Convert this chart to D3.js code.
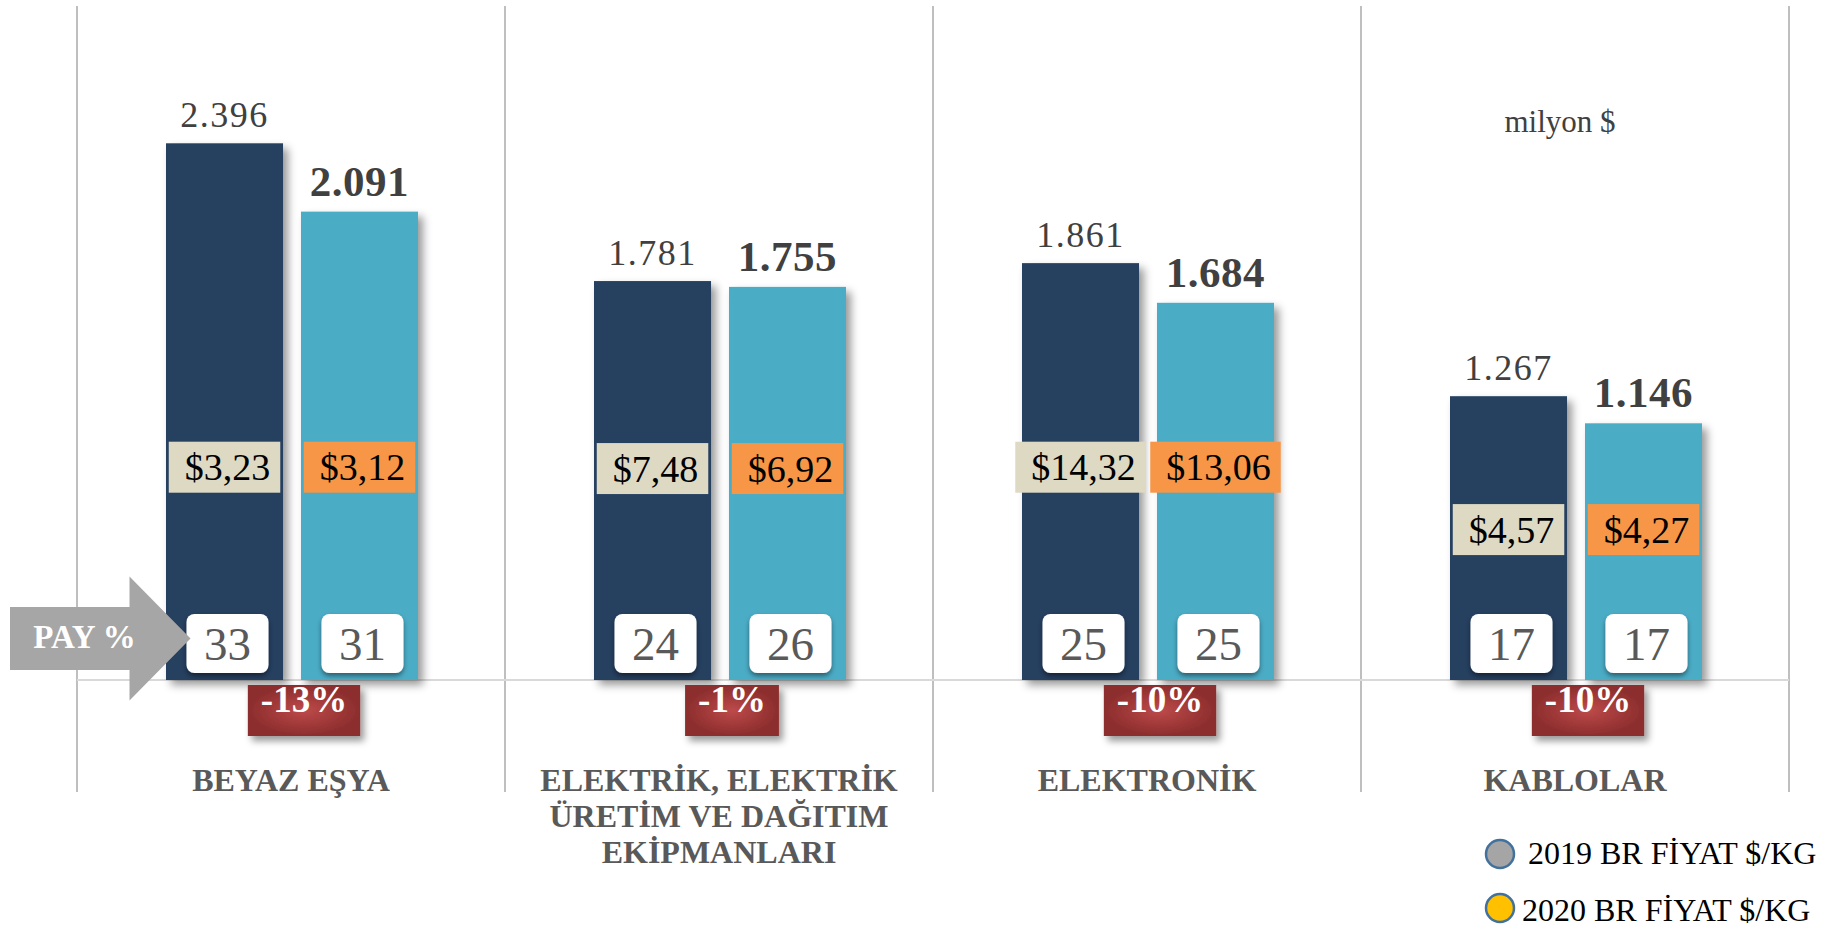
<!DOCTYPE html>
<html>
<head>
<meta charset="utf-8">
<script src="https://cdn.jsdelivr.net/npm/d3@7/dist/d3.min.js"></script>
<style>
  body { margin: 0; background: #fff; overflow: hidden; }
  svg text { font-family: "Liberation Serif", "Times New Roman", serif; }
</style>
</head>
<body>
<div id="chart"></div>
<script>
// data
let categoryLines = [
  ['BEYAZ EŞYA'],
  ['ELEKTRİK, ELEKTRİK', 'ÜRETİM VE DAĞITIM', 'EKİPMANLARI'],
  ['ELEKTRONİK'],
  ['KABLOLAR']
]
let years = ['2019', '2020']
let exports2019 = [2396, 1781, 1861, 1267]
let exports2020 = [2091, 1755, 1684, 1146]
let price2019 = ['$3,23', '$7,48', '$14,32', '$4,57']
let price2020 = ['$3,12', '$6,92', '$13,06', '$4,27']
let share2019 = [33, 24, 25, 17]
let share2020 = [31, 26, 25, 17]
let changeLabels = ['-13%', '-1%', '-10%', '-10%']
let legendLabels = ['2019 BR FİYAT $/KG', '2020 BR FİYAT $/KG']
let unitLabel = 'milyon $'

let width = 1836
let height = 929

let barColor = { '2019': '#264061', '2020': '#4bacc6' }
let priceColor = { '2019': '#ddd9c3', '2020': '#f79646' }
let legendFill = ['#a5a5a5', '#ffc000']

let svg = d3.select('#chart')
  .append('svg')
    .attr('width', width)
    .attr('height', height)

// filters and gradient
let defs = svg.append('defs')
defs.append('filter')
    .attr('id', 'barShadow')
    .attr('x', '-20%').attr('y', '-10%').attr('width', '140%').attr('height', '130%')
  .append('feDropShadow')
    .attr('dx', 5).attr('dy', 5).attr('stdDeviation', 4)
    .attr('flood-color', '#000').attr('flood-opacity', 0.4)
defs.append('filter')
    .attr('id', 'boxShadow')
    .attr('x', '-20%').attr('y', '-20%').attr('width', '140%').attr('height', '160%')
  .append('feDropShadow')
    .attr('dx', 0).attr('dy', 3).attr('stdDeviation', 2.5)
    .attr('flood-color', '#000').attr('flood-opacity', 0.45)
defs.append('filter')
    .attr('id', 'redShadow')
    .attr('x', '-20%').attr('y', '-20%').attr('width', '150%').attr('height', '170%')
  .append('feDropShadow')
    .attr('dx', 4).attr('dy', 5).attr('stdDeviation', 3.5)
    .attr('flood-color', '#000').attr('flood-opacity', 0.4)
let grad = defs.append('radialGradient').attr('id', 'redGrad')
grad.append('stop').attr('offset', '0%').attr('stop-color', '#bd4a4a')
grad.append('stop').attr('offset', '100%').attr('stop-color', '#8c2d2d')

// scales
let x0 = d3.scaleBand().domain(d3.range(categoryLines.length)).range([77, 1789])
let x1 = d3.scaleBand().domain(years).range([89, 341]).paddingInner(0.133)
let y = d3.scaleLinear().domain([0, 3000]).range([680, 8])

let rows = categoryLines.map((lines, i) => ({
  i: i,
  lines: lines,
  bars: [
    { year: '2019', value: exports2019[i], price: price2019[i], share: share2019[i] },
    { year: '2020', value: exports2020[i], price: price2020[i], share: share2020[i] }
  ],
  change: changeLabels[i]
}))

// vertical separators
let edges = x0.domain().map(d => x0(d)).concat([x0(x0.domain().length - 1) + x0.bandwidth()])
svg.append('g').selectAll('line')
  .data(edges)
  .enter().append('line')
    .attr('x1', d => d).attr('x2', d => d)
    .attr('y1', 6).attr('y2', 792)
    .attr('stroke', '#bfbfbf')
    .attr('stroke-width', 2)

// baseline
svg.append('line')
  .attr('x1', x0.range()[0]).attr('x2', x0.range()[1])
  .attr('y1', y(0)).attr('y2', y(0))
  .attr('stroke', '#d9d9d9')
  .attr('stroke-width', 2)

let groups = svg.append('g').selectAll('g')
  .data(rows)
  .enter().append('g')
    .attr('transform', d => `translate(${x0(d.i)}, 0)`)

// bars
groups.selectAll('rect.bar')
  .data(d => d.bars)
  .enter().append('rect')
    .attr('class', 'bar')
    .attr('x', d => x1(d.year))
    .attr('y', d => y(d.value))
    .attr('width', x1.bandwidth())
    .attr('height', d => y(0) - y(d.value))
    .attr('fill', d => barColor[d.year])
    .attr('filter', 'url(#barShadow)')

// value labels
groups.selectAll('text.value')
  .data(d => d.bars)
  .enter().append('text')
    .attr('class', 'value')
    .attr('x', d => x1(d.year) + x1.bandwidth() / 2)
    .attr('y', d => y(d.value) - 16)
    .attr('text-anchor', 'middle')
    .attr('fill', '#404040')
    .attr('font-size', d => d.year === '2019' ? 36 : 43)
    .attr('font-weight', d => d.year === '2019' ? 'normal' : 'bold')
    .attr('letter-spacing', d => d.year === '2019' ? 1.5 : 0.5)
    .text(d => d3.format(',')(d.value).replace(',', '.'))

// price per kg boxes
groups.each(function(row) {
  let g = d3.select(this)
  let cy = y(Math.min(950, 0.53 * row.bars[0].value))
  row.bars.forEach(b => {
    let cx = x1(b.year) + x1.bandwidth() / 2
    let box = g.append('rect')
    let t = g.append('text')
      .attr('x', cx + 3)
      .attr('y', cy + 13)
      .attr('text-anchor', 'middle')
      .attr('font-size', 38)
      .attr('fill', '#000')
      .text(b.price)
    let w = t.node().getComputedTextLength() + 26
    box.attr('x', cx - w / 2)
      .attr('y', cy - 25.5)
      .attr('width', w)
      .attr('height', 51)
      .attr('fill', priceColor[b.year])
  })
})

// share boxes
let boxW = 82
let boxH = 59
groups.selectAll('rect.share')
  .data(d => d.bars)
  .enter().append('rect')
    .attr('class', 'share')
    .attr('x', d => x1(d.year) + x1.bandwidth() / 2 - boxW / 2 + 3)
    .attr('y', y(0) - 7 - boxH)
    .attr('width', boxW)
    .attr('height', boxH)
    .attr('rx', 8)
    .attr('fill', '#fff')
    .attr('filter', 'url(#boxShadow)')
groups.selectAll('text.share')
  .data(d => d.bars)
  .enter().append('text')
    .attr('class', 'share')
    .attr('x', d => x1(d.year) + x1.bandwidth() / 2 + 3)
    .attr('y', y(0) - 7 - boxH / 2 + 16)
    .attr('text-anchor', 'middle')
    .attr('font-size', 47)
    .attr('fill', '#595959')
    .text(d => d.share)

// change boxes
groups.each(function(row) {
  let g = d3.select(this)
  let cx = (x1('2019') + x1.bandwidth() + x1('2020')) / 2 + 12
  let t = g.append('text')
    .attr('x', cx)
    .attr('y', y(0) + 32)
    .attr('text-anchor', 'middle')
    .attr('font-size', 37)
    .attr('font-weight', 'bold')
    .attr('fill', '#fff')
    .text(row.change)
  let w = t.node().getComputedTextLength() + 26
  g.insert('rect', function() { return t.node() })
    .attr('x', cx - w / 2)
    .attr('y', y(0) + 5)
    .attr('width', w)
    .attr('height', 51)
    .attr('fill', 'url(#redGrad)')
    .attr('filter', 'url(#redShadow)')
})

// category labels
groups.append('text')
    .attr('text-anchor', 'middle')
    .attr('font-size', 32)
    .attr('font-weight', 'bold')
    .attr('fill', '#595959')
  .selectAll('tspan')
  .data(d => d.lines)
  .enter().append('tspan')
    .attr('x', x0.bandwidth() / 2)
    .attr('y', (d, i) => 791 + i * 36)
    .text(d => d)

// PAY % arrow
let tipX = x0(0) + x1('2019') + x1.bandwidth() / 2 - boxW / 2 + 7
let cyA = y(0) - 7 - boxH / 2 - 5
let arrowPts = [
  [10, cyA - 31.5], [tipX - 61, cyA - 31.5], [tipX - 61, cyA - 62],
  [tipX, cyA], [tipX - 61, cyA + 62], [tipX - 61, cyA + 31.5], [10, cyA + 31.5]
]
svg.append('path')
  .attr('d', d3.line()(arrowPts) + 'Z')
  .attr('fill', '#a6a6a6')
svg.append('text')
  .attr('x', tipX - 106)
  .attr('y', cyA + 9)
  .attr('text-anchor', 'middle')
  .attr('font-size', 33)
  .attr('font-weight', 'bold')
  .attr('fill', '#fff')
  .text('PAY %')

// unit label
svg.append('text')
  .attr('x', 1560)
  .attr('y', 132)
  .attr('text-anchor', 'middle')
  .attr('font-size', 31)
  .attr('fill', '#404040')
  .text(unitLabel)

// legend
let legend = svg.append('g').selectAll('g')
  .data(legendLabels)
  .enter().append('g')
    .attr('transform', (d, i) => `translate(1500, ${854 + i * 54})`)
legend.append('circle')
  .attr('r', 14)
  .attr('fill', (d, i) => legendFill[i])
  .attr('stroke', '#41719c')
  .attr('stroke-width', 2.5)
legend.append('text')
  .attr('x', (d, i) => i === 0 ? 28 : 22)
  .attr('y', (d, i) => i === 0 ? 10 : 13)
  .attr('font-size', 32)
  .attr('fill', '#000')
  .text(d => d)
</script>
</body>
</html>
